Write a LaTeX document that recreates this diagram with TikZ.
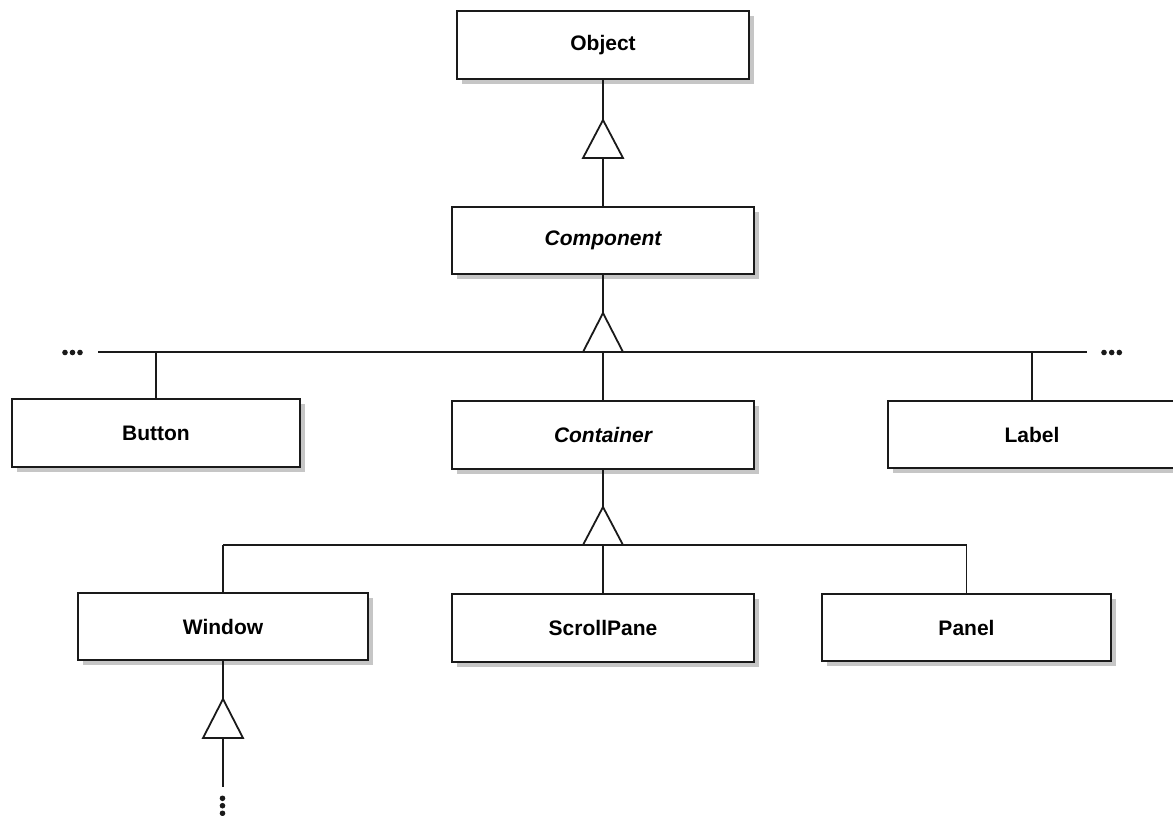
\documentclass[tikz,border=0pt]{standalone}
\usepackage{fontspec}
\setmainfont{Liberation Sans}
\usetikzlibrary{shadows}
\definecolor{ink}{HTML}{1A1A1A}
\definecolor{shade}{HTML}{C6C6C6}
\begin{document}
\begin{tikzpicture}[x=1pt,y=-1pt,
  classbox/.style={draw=ink, line width=1.9pt, fill=white, rectangle, inner sep=0pt,
    general shadow={fill=shade, shadow xshift=5pt, shadow yshift=-5pt},
    font=\fontsize{21}{25}\selectfont\bfseries, text=black},
  abstract/.style={font=\fontsize{21}{25}\selectfont\bfseries\itshape},
  link/.style={draw=ink, line width=1.8pt},
  genarrow/.style={draw=ink, line width=1.8pt, line join=miter, fill=white},
  dot/.style={fill=ink, circle, inner sep=0pt, minimum size=5.6pt}
]
\useasboundingbox (0,0) rectangle (1173,816);

% classes
\node[classbox, minimum width=292pt, minimum height=68pt] (object) at (603,45) {Object};
\node[classbox, abstract, minimum width=302pt, minimum height=67pt] (component) at (603,240.5) {Component};
\node[classbox, minimum width=288pt, minimum height=68pt] (button) at (156,433) {Button};
\node[classbox, abstract, minimum width=302pt, minimum height=68pt] (container) at (603,435) {Container};
\node[classbox, minimum width=288pt, minimum height=67pt] (label) at (1032,434.5) {Label};
\node[classbox, minimum width=290pt, minimum height=67pt] (window) at (223,626.5) {Window};
\node[classbox, minimum width=302pt, minimum height=68pt] (scrollpane) at (603,628) {ScrollPane};
\node[classbox, minimum width=289pt, minimum height=67pt] (panel) at (966.5,627.5) {Panel};

% tips of the generalization triangles
\coordinate (tipA) at (603,120);
\coordinate (tipB) at (603,313);
\coordinate (tipC) at (603,507);
\coordinate (tipD) at (223,699);

% Object <- Component
\draw[link] (object.south) -- (tipA);
\draw[genarrow] (tipA) -- ++(-20,38) coordinate (baseA) -- ++(40,0) -- cycle;
\draw[link] (object.south |- baseA) -- (component.north);

% Component <- Button, Container, Label, ...
\coordinate (barL) at (98,352);
\coordinate (barR) at (1087,352);
\draw[link] (component.south) -- (tipB);
\draw[link] (barL) -- (barR);
\draw[link] (button.north |- barL) -- (button.north);
\draw[link] (container.north |- barL) -- (container.north);
\draw[link] (label.north |- barL) -- (label.north);
\draw[genarrow] (tipB) -- ++(-20,39) -- ++(40,0) -- cycle;

% Container <- Window, ScrollPane, Panel
\coordinate (barL2) at (223,545);
\coordinate (barR2) at (967,545);
\draw[link] (container.south) -- (tipC);
\draw[link] (barL2) -- (barR2);
\draw[link] (window.north |- barL2) -- (window.north);
\draw[link] (scrollpane.north |- barL2) -- (scrollpane.north);
\draw[link] (panel.north |- barL2) -- (panel.north);
\draw[genarrow] (tipC) -- ++(-20,38) -- ++(40,0) -- cycle;

% Window <- ...
\coordinate (moreEnd) at (223,787);
\draw[link] (window.south) -- (tipD);
\draw[genarrow] (tipD) -- ++(-20,39) coordinate (baseD) -- ++(40,0) -- cycle;
\draw[link] (window.south |- baseD) -- (moreEnd);

% ellipses
\foreach \x [count=\i] in {65,72.5,80} \node[dot] (leftdot\i) at (\x,352.5) {};
\foreach \x [count=\i] in {1104,1111.7,1119.3} \node[dot] (rightdot\i) at (\x,352.5) {};
\foreach \y [count=\i] in {798.3,805.7,813.3} \node[dot] (downdot\i) at (222.5,\y) {};
\end{tikzpicture}
\end{document}
